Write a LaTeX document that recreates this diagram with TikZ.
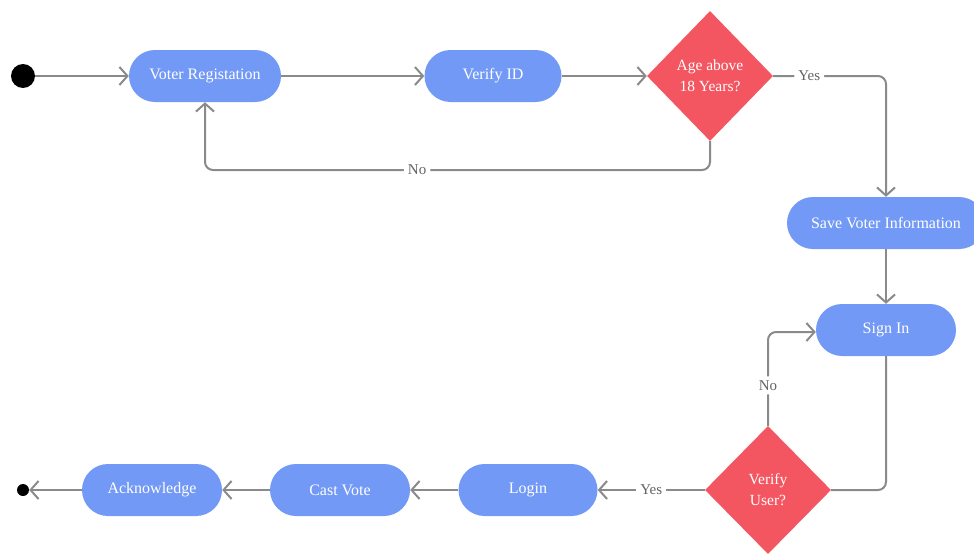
\documentclass[tikz,border=0pt]{standalone}
\usepackage{fontspec}
\setmainfont{Liberation Serif}
\usetikzlibrary{shapes.geometric,arrows.meta}
\definecolor{boxblue}{RGB}{114,153,245}
\definecolor{diared}{RGB}{243,86,96}
\definecolor{linegray}{RGB}{138,138,138}
\definecolor{lblgray}{RGB}{100,100,100}
\tikzset{
  act/.style={rectangle, rounded corners=26pt, fill=boxblue, text=white, minimum height=52pt, inner sep=0pt, font=\fontsize{16}{19}\selectfont},
  dec/.style={diamond, fill=diared, text=white, minimum width=126pt, minimum height=130pt, inner sep=0pt, align=center, font=\fontsize{15.5}{21}\selectfont},
  conn/.style={draw=linegray, line width=2pt, -{Straight Barb[length=8pt,width=18pt,line width=2pt]}},
  plain/.style={draw=linegray, line width=2pt},
  lbl/.style={fill=white, text=lblgray, inner sep=4pt, font=\fontsize{15}{17}\selectfont},
}
\begin{document}
\begin{tikzpicture}[x=1pt,y=-1pt]
\useasboundingbox (0,0) rectangle (974,554);
\node[circle, fill=black, minimum size=24pt, inner sep=0pt] (start) at (23,76) {};
\node[act, minimum width=152pt] (vr) at (205,76) {Voter Registation};
\node[act, minimum width=137pt] (vid) at (493,76) {Verify ID};
\node[dec] (age) at (710,76) {Age above\\18 Years?};
\node[act, minimum width=198pt] (save) at (886,223) {Save Voter Information};
\node[act, minimum width=140pt] (signin) at (886,330) {Sign In};
\node[dec, minimum height=128pt] (vu) at (768,490) {Verify\\User?};
\node[act, minimum width=139pt] (login) at (528,490) {Login};
\node[act, minimum width=140pt] (cast) at (340,490) {Cast Vote};
\node[act, minimum width=140pt] (ack) at (152,490) {Acknowledge};
\node[circle, fill=black, minimum size=12pt, inner sep=0pt] (end) at (23,490) {};
\coordinate (c1) at (886,76);
\coordinate (c2) at (710,170);
\coordinate (c3) at (768,332);

\draw[conn] (start) -- (vr);
\draw[conn] (vr) -- (vid);
\draw[conn] (vid) -- (age);
\draw[conn, rounded corners=8pt] (age.east) -- node[lbl, pos=0.32]{Yes} (c1) -- (c1 |- save.north);
\draw[conn, rounded corners=8pt] (age.south) -- (c2) -| node[lbl, pos=0.29]{No} (vr.south);
\draw[conn] (save) -- (signin);
\draw[plain, rounded corners=8pt] (signin.south) |- (vu.east);
\draw[conn, rounded corners=8pt] (vu.north) -- node[lbl, pos=0.43]{No} (c3) -- (c3 -| signin.west);
\draw[conn] (vu.west) -- node[lbl]{Yes} (login.east);
\draw[conn] (login) -- (cast);
\draw[conn] (cast) -- (ack);
\draw[conn] (ack) -- (end);
\end{tikzpicture}
\end{document}
